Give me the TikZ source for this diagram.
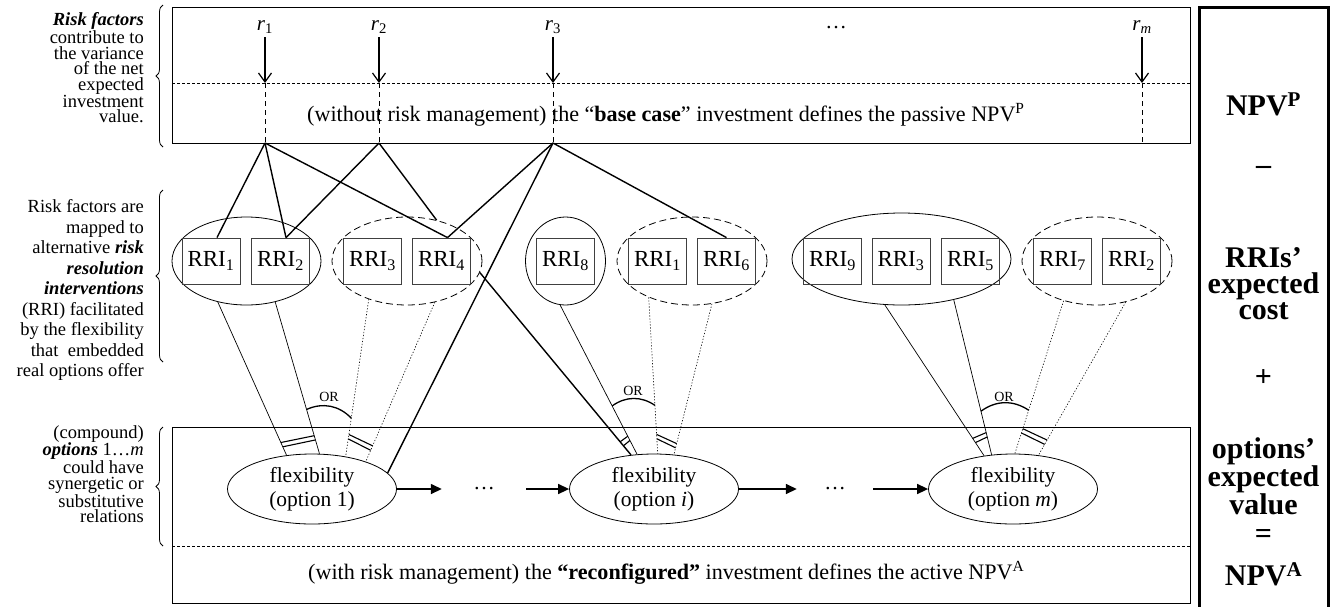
\documentclass[tikz,border=0pt]{standalone}
\usepackage{fontspec}
\setmainfont{Liberation Serif}
\usetikzlibrary{shapes.geometric,arrows.meta,calc,decorations.pathreplacing}
\begin{document}
\begin{tikzpicture}[x=1pt,y=-1pt,
  lefttext/.style={align=right, anchor=east, inner sep=0pt},
  frame/.style={draw, line width=0.8pt, inner sep=0pt, anchor=north west, minimum width=1018pt},
  divider/.style={line width=0.7pt, dash pattern=on 3pt off 2pt},
  vdash/.style={line width=0.6pt, dash pattern=on 5pt off 4pt},
  rlab/.style={font=\fontsize{21}{24}\selectfont, anchor=south, inner sep=1pt},
  rarrow/.style={line width=1.2pt, -{Straight Barb[length=9pt,width=13pt]}},
  boxtext/.style={anchor=west, inner sep=0pt, font=\fontsize{22.1}{25}\selectfont},
  rri/.style={draw=black!75, line width=0.8pt, minimum width=58pt, minimum height=46pt, inner sep=0pt, font=\fontsize{23}{26}\selectfont},
  grp/.style={draw, ellipse, line width=0.8pt, inner sep=0pt, minimum height=88pt},
  grpd/.style={grp, dash pattern=on 7pt off 4pt},
  flex/.style={draw, ellipse, line width=0.8pt, inner sep=0pt, minimum width=169pt, minimum height=70pt, align=center, font=\fontsize{21.5}{24}\selectfont},
  dotsn/.style={inner sep=0pt, font=\fontsize{21.5}{24}\selectfont},
  conn/.style={line width=1.4pt},
  thin/.style={line width=0.7pt},
  dotl/.style={line width=0.6pt, dash pattern=on 1.2pt off 1.8pt},
  orarc/.style={line width=1.3pt},
  orlab/.style={inner sep=0pt, font=\fontsize{14}{16}\selectfont},
  tick/.style={line width=1.1pt},
  flow/.style={line width=1.5pt, -{Triangle[length=11pt,width=10pt]}},
  brace/.style={line width=0.8pt, decorate, decoration={brace, amplitude=7pt}},
  rcol/.style={align=center, inner sep=0pt, font=\bfseries\fontsize{30}{26}\selectfont}
]
\useasboundingbox (0,0) rectangle (1330,606);

% ---------- left explanatory texts ----------
\node[lefttext, font=\fontsize{18.5}{15.5}\selectfont] (lt1) at (144,68)
  {\textbf{\textit{Risk factors}}\\contribute to\\the variance\\of the net\\expected\\investment\\value.};
\node[lefttext, font=\fontsize{18.5}{20.5}\selectfont] (lt2) at (144,290)
  {Risk factors are\\mapped to\\alternative \textbf{\textit{risk}}\\\textbf{\textit{resolution}}\\\textbf{\textit{interventions}}\\(RRI) facilitated\\by the flexibility\\that~~embedded\\real options offer};
\node[lefttext, font=\fontsize{18.5}{15.5}\selectfont] (lt3) at (144,474)
  {(compound)\\\textbf{\textit{options}} 1…\textit{m}\\could have\\synergetic or\\substitutive\\relations};

\coordinate (bt1) at (163,5);   \coordinate (bb1) at (163,147);
\coordinate (bt2) at (163,190); \coordinate (bb2) at (163,362);
\coordinate (bt3) at (163,427); \coordinate (bb3) at (163,546);
\draw[brace] (bb1) -- (bt1);
\draw[brace] (bb2) -- (bt2);
\draw[brace] (bb3) -- (bt3);

% ---------- top frame (base case) ----------
\node[frame, minimum height=136pt] (top) at (172,7) {};
\coordinate (tdl) at (172,83); \coordinate (tdr) at (1190,83);
\draw[divider] (tdl) -- (tdr);
\foreach \n/\x/\lab in {1/265/1, 2/379/2, 3/553/3, m/1142/\textit{m}} {
  \node[rlab] (r\n) at (\x,35) {\textit{r}\textsubscript{\lab}};
  \coordinate (d\n) at (\x,83);
  \coordinate (j\n) at (\x,143);
  \draw[rarrow] ([yshift=-2pt]r\n.south) -- (d\n);
  \draw[vdash] (d\n) -- (j\n);
}
\node[dotsn] (tdots) at (836,28) {…};
\node[boxtext] (ttext) at (307,115)
  {(without risk management) the “\textbf{base case}” investment defines the passive NPV\textsuperscript{P}};

% ---------- bottom frame (reconfigured) ----------
\node[frame, minimum height=176pt] (bot) at (172,427) {};
\coordinate (bdl) at (172,546); \coordinate (bdr) at (1190,546);
\draw[divider] (bdl) -- (bdr);
\node[boxtext] (btext) at (308,573)
  {(with risk management) the \textbf{“reconfigured”} investment defines the active NPV\textsuperscript{A}};

% ---------- RRI groups ----------
\node[grp,  minimum width=149pt] (E1) at (246.5,261) {};
\node[grpd, minimum width=150pt] (E2) at (407,261) {};
\node[grp,  minimum width=80pt]  (E3) at (565.5,261) {};
\node[grpd, minimum width=150pt] (E4) at (692,261) {};
\node[grp,  minimum width=219pt, minimum height=92pt] (E5) at (901.5,259) {};
\node[grpd, minimum width=150pt] (E6) at (1097,261) {};

\node[rri] (b1)  at (211,261)    {RRI\textsubscript{1}};
\node[rri] (b2)  at (280.5,261)  {RRI\textsubscript{2}};
\node[rri] (b3)  at (372.5,261)  {RRI\textsubscript{3}};
\node[rri] (b4)  at (441.5,261)  {RRI\textsubscript{4}};
\node[rri] (b8)  at (565.5,261)  {RRI\textsubscript{8}};
\node[rri] (b1x) at (657.5,261)  {RRI\textsubscript{1}};
\node[rri] (b6)  at (726.5,261)  {RRI\textsubscript{6}};
\node[rri] (b9)  at (832.5,261)  {RRI\textsubscript{9}};
\node[rri] (b3x) at (901,261)    {RRI\textsubscript{3}};
\node[rri] (b5)  at (970.5,261)  {RRI\textsubscript{5}};
\node[rri] (b7)  at (1062.5,261) {RRI\textsubscript{7}};
\node[rri] (b2x) at (1131.5,261) {RRI\textsubscript{2}};

% ---------- options ----------
\node[flex] (O1) at (312,489) {flexibility\\(option 1)};
\node[flex] (Oi) at (654,489) {flexibility\\(option \textit{i})};
\node[flex] (Om) at (1013,489) {flexibility\\(option \textit{m})};
\node[dotsn, minimum width=84pt] (dots1) at (484,489) {…};
\node[dotsn, minimum width=76pt] (dots2) at (835,489) {…};
\draw[flow] (O1.east) -- (dots1.west);
\draw[flow] (dots1.east) -- (Oi.west);
\draw[flow] (Oi.east) -- (dots2.west);
\draw[flow] (dots2.east) -- (Om.west);

% ---------- risk factor to RRI mapping ----------
\draw[conn] (j1) -- ([xshift=6pt]b1.north);
\draw[conn] (j1) -- ([xshift=5.5pt]b2.north);
\draw[conn] (j1) -- ([xshift=6pt]b4.north);
\draw[conn] (j2) -- ([xshift=5.5pt]b2.north);
\draw[conn] (j2) -- (E2.54);
\draw[conn] (j3) -- ([xshift=6pt]b4.north);
\draw[conn] (j3) -- (O1.12);
\draw[conn] (j3) -- (b6.north);

% ---------- RRI groups to options ----------
\draw[thin] (E1.235) -- (O1.127);
\draw[thin] (E1.305) -- (O1.78);
\draw[dotl] (E2.225) -- (O1.44);
\draw[dotl] (E2.304) -- (O1.27);

\draw[conn] (E2.351) -- (Oi.124);
\draw[thin] (E3.263) -- (Oi.116);
\draw[dotl] (E4.220) -- (Oi.84);
\draw[dotl] (E4.295) -- (Oi.60);

\draw[thin] (E5.250) -- (Om.131);
\draw[thin] (E5.322) -- (Om.122);
\draw[dotl] (E6.230) -- (Om.87);
\draw[dotl] (E6.305) -- (Om.53);

% ---------- OR arcs ----------
\draw[orarc] ($(E1.305)!0.708!(O1.78)$) to[bend left=35] ($(E2.225)!0.756!(O1.44)$);
\node[orlab] (or1) at (329,397) {OR};
\draw[orarc] ($(E3.263)!0.676!(Oi.116)$) to[bend left=35] ($(E4.220)!0.691!(Oi.84)$);
\node[orlab] (or2) at (633,391) {OR};
\draw[orarc] ($(E5.322)!0.719!(Om.122)$) to[bend left=35] ($(E6.230)!0.716!(Om.87)$);
\node[orlab] (or3) at (1004,397) {OR};

% ---------- double ticks ----------
\draw[tick] ($(E1.235)!0.945!(O1.127)$) -- ($(E1.305)!0.909!(O1.78)$);
\draw[tick] ($(E1.235)!0.917!(O1.127)$) -- ($(E1.305)!0.881!(O1.78)$);
\draw[tick] ($(E2.225)!0.888!(O1.44)$) -- ($(E2.304)!0.929!(O1.27)$);
\draw[tick] ($(E2.225)!0.860!(O1.44)$) -- ($(E2.304)!0.901!(O1.27)$);

\draw[tick] ($(E2.351)!0.950!(Oi.124)$) -- ($(E3.263)!0.907!(Oi.116)$);
\draw[tick] ($(E2.351)!0.928!(Oi.124)$) -- ($(E3.263)!0.879!(Oi.116)$);
\draw[tick] ($(E4.220)!0.905!(Oi.84)$) -- ($(E4.295)!0.955!(Oi.60)$);
\draw[tick] ($(E4.220)!0.877!(Oi.84)$) -- ($(E4.295)!0.927!(Oi.60)$);

\draw[tick] ($(E5.250)!0.913!(Om.131)$) -- ($(E5.322)!0.885!(Om.122)$);
\draw[tick] ($(E5.250)!0.885!(Om.131)$) -- ($(E5.322)!0.857!(Om.122)$);
\draw[tick] ($(E6.230)!0.865!(Om.87)$) -- ($(E6.305)!0.929!(Om.53)$);
\draw[tick] ($(E6.230)!0.837!(Om.87)$) -- ($(E6.305)!0.901!(Om.53)$);

% ---------- right summary column ----------
\coordinate (rc1) at (1199,620); \coordinate (rc2) at (1199,7);
\coordinate (rc3) at (1328,7);   \coordinate (rc4) at (1328,620);
\draw[line width=3pt] (rc1) -- (rc2) -- (rc3) -- (rc4);
\node[rcol] (npvp) at (1263.5,104) {NPV\textsuperscript{P}};
\node[rcol] (minus) at (1263.5,170) {–};
\node[rcol] (cost) at (1263.5,284) {RRIs’\\expected\\cost};
\node[rcol] (plus) at (1263.5,378) {+};
\node[rcol] (optv) at (1263.5,476) {options’\\expected\\value};
\node[rcol] (eq) at (1263.5,536) {=};
\node[rcol] (npva) at (1263.5,574) {NPV\textsuperscript{A}};
\end{tikzpicture}
\end{document}
